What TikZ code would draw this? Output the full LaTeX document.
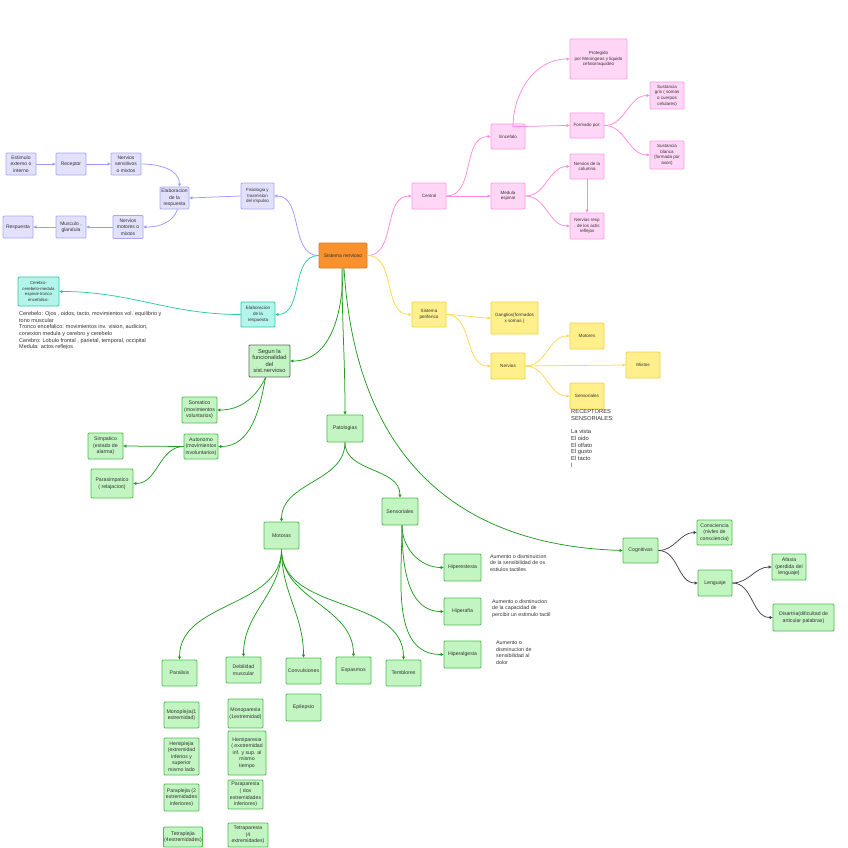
\documentclass[tikz,border=0pt]{standalone}
\usepackage{fontspec}
\setmainfont{Liberation Sans}
\usetikzlibrary{arrows.meta}
\definecolor{txt}{HTML}{333333}
\definecolor{purF}{HTML}{E1E1FC}
\definecolor{purD}{HTML}{A8A8F2}
\definecolor{purE}{HTML}{9C9CFF}
\definecolor{pinkF}{HTML}{FFD6F5}
\definecolor{pinkD}{HTML}{FF9BE6}
\definecolor{pinkE}{HTML}{FF8AE0}
\definecolor{yelF}{HTML}{FFF08C}
\definecolor{yelD}{HTML}{F5CF3C}
\definecolor{yelE}{HTML}{FFD94A}
\definecolor{tealF}{HTML}{B3F5EA}
\definecolor{tealD}{HTML}{2CC9A9}
\definecolor{tealE}{HTML}{2BC9A5}
\definecolor{greF}{HTML}{C2F5C2}
\definecolor{greD}{HTML}{4DBE4D}
\definecolor{greE}{HTML}{229B22}
\definecolor{orF}{HTML}{F7922F}
\definecolor{orD}{HTML}{DA7A20}
\definecolor{cogE}{HTML}{444455}
\tikzset{
  box/.style={draw, rounded corners=1pt, line width=0.8pt, align=center, inner sep=0.5pt, text=txt, font=\fontsize{5}{6.4}\selectfont},
  pur/.style={box, fill=purF, draw=purD},
  pnk/.style={box, fill=pinkF, draw=pinkD, font=\fontsize{4.5}{5.6}\selectfont},
  yel/.style={box, fill=yelF, draw=yelD, font=\fontsize{4.6}{5.8}\selectfont},
  tea/.style={box, fill=tealF, draw=tealD, font=\fontsize{4.6}{5.8}\selectfont},
  gre/.style={box, fill=greF, draw=greD, font=\fontsize{5.2}{6.6}\selectfont},
  ora/.style={box, fill=orF, draw=orD},
  note/.style={anchor=north west, align=left, inner sep=0pt, text=txt, font=\fontsize{5.8}{6.7}\selectfont},
  arr/.style={line width=0.75pt, -{Triangle[length=3pt,width=3pt]}},
  pe/.style={arr, purE},
  ke/.style={arr, pinkE},
  ye/.style={arr, yelE},
  te/.style={arr, tealE},
  ge/.style={arr, greE},
  ce/.style={arr, cogE},
}
\begin{document}
\begin{tikzpicture}[x=1pt,y=-1pt]
\useasboundingbox[fill=white] (0,0) rectangle (848,848);

% ---- centre
\node[ora, minimum width=48, minimum height=25] (sn) at (343,255.5) {Sistema nervioso};

% ---- purple
\node[pur, minimum width=30, minimum height=22] (estim) at (21,164) {Estimulo\\externo o\\interno};
\node[pur, minimum width=30, minimum height=22] (recep) at (71,164) {Receptor};
\node[pur, minimum width=30, minimum height=22] (nsens) at (126,164) {Nervios\\sensitivos\\o mixtos};
\node[pur, minimum width=29, minimum height=22] (elab) at (174.5,198) {Elaboracion\\de la\\respuesta};
\node[pur, minimum width=33, minimum height=26, font=\fontsize{4.5}{5.6}\selectfont] (fisio) at (257.5,196) {Fisiologia y\\trasmision\\del impulso};
\node[pur, minimum width=30, minimum height=23] (nmot) at (128,227) {Nervios\\motores o\\mixtos};
\node[pur, minimum width=30, minimum height=22] (musc) at (71,227) {Musculo ,\\glandula};
\node[pur, minimum width=30, minimum height=22] (resp) at (18,227) {Respuesta};

% ---- pink
\node[pnk, minimum width=34, minimum height=26] (central) at (429,196) {Central};
\node[pnk, minimum width=34, minimum height=25] (enc) at (508,136.5) {Encefalo};
\node[pnk, minimum width=34, minimum height=26] (med) at (508,196) {Medula\\espinal};
\node[pnk, minimum width=57, minimum height=40] (prot) at (598.5,59) {Protegido\\por Meningeas y liquido\\cefalorraquideo};
\node[pnk, minimum width=34, minimum height=25] (form) at (587,125.5) {Formado por:};
\node[pnk, minimum width=34, minimum height=27] (gris) at (667,95.5) {Sustancia\\gris ( somas\\o cuerpos\\celulares)};
\node[pnk, minimum width=34, minimum height=28] (blanca) at (667,155) {Sustancia\\blanca\\(formada por\\axon)};
\node[pnk, minimum width=34, minimum height=25] (ncol) at (587,166.5) {Nervios de la\\columna};
\node[pnk, minimum width=34, minimum height=26] (nresp) at (587,226) {Nervios resp\\. de los actis\\reflejos};

% ---- yellow
\node[yel, minimum width=34, minimum height=25] (perif) at (429,314.5) {Sistema\\periferico};
\node[yel, minimum width=47, minimum height=32] (gang) at (514.5,318) {Ganglios(formados\\x somas )};
\node[yel, minimum width=34, minimum height=26] (nerv) at (508,366) {Nervios};
\node[yel, minimum width=34, minimum height=26] (motores) at (587,336) {Motores};
\node[yel, minimum width=34, minimum height=26] (mixtos) at (643,365) {Mixtos};
\node[yel, minimum width=34, minimum height=26] (sensy) at (587,396) {Sensoriales};
\node[note] (recept) at (571,409.5) {RECEPTORES\\SENSORIALES:\\[6.7pt]La vista\\El oido\\El olfato\\El gusto\\El tacto\\l};

% ---- teal
\node[tea, minimum width=41, minimum height=29, font=\fontsize{4.3}{5.5}\selectfont] (cereb) at (38.5,291.5) {Cerebro-\\cerebelo-medula\\espinal-tronco\\encefalico-};
\node[tea, minimum width=34, minimum height=25] (elabt) at (258,314.5) {Elaboracion\\de la\\respuesta};
\node[note, font=\fontsize{5.5}{6.6}\selectfont] (cerebtxt) at (19,311.5) {Cerebelo: Ojos , oidos, tacto, movimientos vol. equilibrio y\\tono muscular\\Tronco encefalico: movimientos inv. vision, audicion,\\conexion medula y cerebro y cerebelo\\Cerebro: Lobulo frontal , parietal, temporal, occipital\\Medula: actos reflejos};

% ---- green
\node[gre, minimum width=41, minimum height=32, draw=black!60, font=\fontsize{5.8}{6.6}\selectfont] (segun) at (269.5,361) {Segun la\\funcionalidad\\del\\sist.nervioso};
\node[gre, minimum width=35, minimum height=26] (somat) at (199.5,410) {Somatico\\(movimientos\\voluntarios)};
\node[gre, minimum width=34, minimum height=25] (auton) at (201,446.5) {Autonomo\\(movimientos\\involuntarios)};
\node[gre, minimum width=35, minimum height=26] (simp) at (105.5,446) {Simpatico\\(estado de\\alarma)};
\node[gre, minimum width=42, minimum height=29] (paras) at (112,483.5) {Parasimpatico\\( relajacion)};

\node[gre, minimum width=36, minimum height=27] (pat) at (345,428.5) {Patologias};
\node[gre, minimum width=36, minimum height=27] (senso) at (400,511.5) {Sensoriales};
\node[gre, minimum width=37, minimum height=27] (hipe) at (462.5,567.5) {Hiperestesia};
\node[gre, minimum width=37, minimum height=27] (hipa) at (462.5,611.5) {Hiperafia};
\node[gre, minimum width=37, minimum height=27] (hipal) at (462.5,654.5) {Hiperalgesia};
\node[note, font=\fontsize{5.3}{6.5}\selectfont] (t1) at (490,554) {Aumento o disminuicion\\de la sensibilidad de os\\estiulos tactiles};
\node[note, font=\fontsize{5.3}{6.5}\selectfont] (t2) at (492,599) {Aumento o disminucion\\de la capacidad de\\percibir un estimulo tactil};
\node[note, font=\fontsize{5.3}{6.5}\selectfont] (t3) at (496,641) {Aumento o\\disminucion de\\sensibilidad al\\dolor};

\node[gre, minimum width=35, minimum height=27] (motoras) at (281.5,535.5) {Motoras};
\node[gre, minimum width=35, minimum height=26] (paral) at (179.5,673) {Paralisis};
\node[gre, minimum width=35, minimum height=26] (debil) at (243.5,670) {Debilidad\\muscular};
\node[gre, minimum width=35, minimum height=26] (conv) at (303.5,671) {Convulsiones};
\node[gre, minimum width=35, minimum height=27] (espas) at (353.5,670.5) {Espasmos};
\node[gre, minimum width=35, minimum height=26] (tembl) at (403.5,673) {Temblores};
\node[gre, minimum width=35, minimum height=27] (epil) at (303.5,707.5) {Epilepsio};

\node[gre, minimum width=35, minimum height=26] (monopl) at (181.5,715) {Monoplejia(1\\estremidad)};
\node[gre, minimum width=35, minimum height=37] (hemipl) at (181.5,756.5) {Hemiplejia\\(extremidad\\inferios y\\superior\\mismo lado};
\node[gre, minimum width=35, minimum height=27] (parapl) at (181.5,797.5) {Paraplejia (2\\extremidades\\inferiores)};
\node[gre, minimum width=39, minimum height=20] (tetrapl) at (183,837) {Tetraplejia\\(4estremidades)};
\node[gre, minimum width=35, minimum height=29] (monopa) at (245.5,713.5) {Monoparesia\\(1extremidad)};
\node[gre, minimum width=38, minimum height=44] (hemipa) at (247,753) {Hemiparesia\\( exstremidad\\inf. y sup. al\\mismo\\tiempo};
\node[gre, minimum width=35, minimum height=29] (parapa) at (245.5,794.5) {Paraparesia\\( dos\\extremidades\\inferiores)};
\node[gre, minimum width=40, minimum height=24] (tetrapa) at (248,835) {Tetraparesia\\(4\\extremidades)};

\node[gre, minimum width=35, minimum height=25] (cogn) at (640.5,550.5) {Cognitivas};
\node[gre, minimum width=35, minimum height=25] (consc) at (714.5,532.5) {Consciencia\\(nivles de\\consciencia)};
\node[gre, minimum width=34, minimum height=26] (leng) at (715,583) {Lenguaje};
\node[gre, minimum width=34, minimum height=26] (afas) at (789,567) {Afasia\\(perdida del\\lenguaje)};
\node[gre, minimum width=61, minimum height=27] (disar) at (803.5,617.5) {Disartria(dificultad de\\articular palabras)};

% ================= edges
% purple
\draw[pe] (estim.east) -- (recep.west);
\draw[pe] (recep.east) -- (nsens.west);
\draw[pe] (nsens.east) to[out=0,in=90] ([xshift=5]elab.north);
\draw[pe] (fisio.west) -- (elab.east);
\draw[pe] ([xshift=3]elab.south) to[out=-110,in=0] (nmot.east);
\draw[pe] (nmot.west) -- (musc.east);
\draw[pe] (musc.west) -- (resp.east);
\draw[pe] (sn.west) to[out=180,in=0] (fisio.east);

% pink
\draw[ke] (sn.east) to[out=0,in=180] (central.west);
\draw[ke] (central.east) to[out=0,in=180] (enc.west);
\draw[ke] (central.east) -- (med.west);
\draw[ke] ([xshift=5,yshift=-3]enc.north) to[out=90,in=180] (prot.west);
\draw[ke] ([xshift=5,yshift=-3]enc.north) to[out=0,in=180,looseness=0.4] (form.west);
\draw[ke] (form.east) to[out=0,in=180] (gris.west);
\draw[ke] (form.east) to[out=0,in=180] (blanca.west);
\draw[ke] (med.east) to[out=0,in=180] (ncol.west);
\draw[ke] (med.east) to[out=0,in=180] (nresp.west);
\draw[ke] (ncol.south) -- (nresp.north);

% yellow
\draw[ye] (sn.east) to[out=0,in=180] (perif.west);
\draw[ye] (perif.east) to[out=0,in=180,looseness=0.5] (gang.west);
\draw[ye] (perif.east) to[out=0,in=180] (nerv.west);
\draw[ye] (nerv.east) to[out=0,in=180] (motores.west);
\draw[ye] (nerv.east) -- (mixtos.west);
\draw[ye] (nerv.east) to[out=0,in=180] (sensy.west);

% teal
\draw[te] (sn.west) to[out=180,in=0] (elabt.east);
\draw[te] (elabt.west) to[out=180,in=0] (cereb.east);

% green
\draw[ge] (sn.south) to[out=-90,in=0] (segun.east);
\draw[ge] ([xshift=-1]sn.south) to[out=-90,in=90] (pat.north);
\draw[ge] ([xshift=1]sn.south) .. controls (355,450) and (450,545) .. (cogn.west);
\draw[ge] ([xshift=-4]segun.south) to[out=-115,in=0] (somat.east);
\draw[ge] ([xshift=-4]segun.south) to[out=-100,in=0] (auton.east);
\draw[ge] (auton.west) -- (simp.east);
\draw[ge] (auton.west) to[out=180,in=0] (paras.east);
\draw[ge] (pat.south) to[out=-90,in=90] (motoras.north);
\draw[ge] (pat.south) to[out=-90,in=90] (senso.north);
\draw[ge] (motoras.south) to[out=-90,in=90] (paral.north);
\draw[ge] (motoras.south) to[out=-90,in=90] (debil.north);
\draw[ge] (motoras.south) to[out=-90,in=90] (conv.north);
\draw[ge] (motoras.south) to[out=-90,in=90] (espas.north);
\draw[ge] (motoras.south) to[out=-90,in=90] (tembl.north);
\draw[ge] ([xshift=2]senso.south) to[out=-90,in=180] (hipe.west);
\draw[ge] ([xshift=2]senso.south) to[out=-90,in=180] (hipa.west);
\draw[ge] ([xshift=2]senso.south) to[out=-90,in=180] (hipal.west);

% cognitive
\draw[ce] (cogn.east) to[out=0,in=180] (consc.west);
\draw[ce] (cogn.east) to[out=0,in=180] (leng.west);
\draw[ce] (leng.east) to[out=0,in=180] (afas.west);
\draw[ce] (leng.east) to[out=0,in=180] (disar.west);
\end{tikzpicture}
\end{document}
